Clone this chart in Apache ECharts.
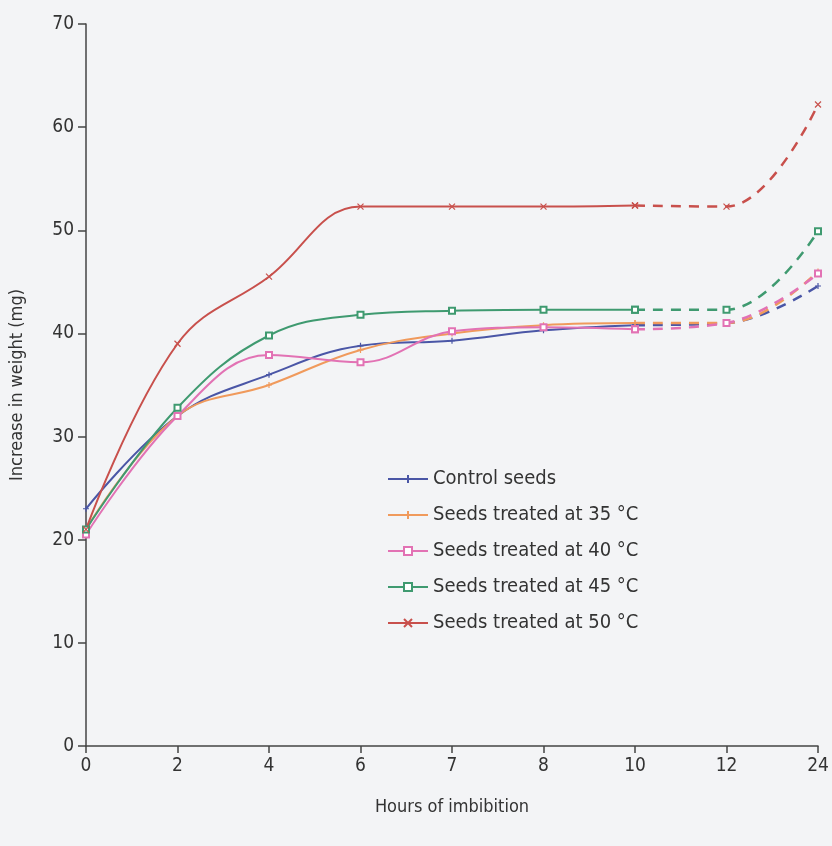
<!DOCTYPE html>
<html>
<head>
<meta charset="utf-8">
<script src="https://cdn.jsdelivr.net/npm/echarts@6/dist/echarts.min.js"></script>
<style>
  html, body { margin: 0; padding: 0; background: #f3f4f6; }
  #chart { width: 832px; height: 846px; }
</style>
</head>
<body>
<div id="chart"></div>
<script>
// hours of imbibition (category axis, equal spacing)
var hours = ['0', '2', '4', '6', '7', '8', '10', '12', '24'];

// increase in weight (mg)
var control = [23.0, 32.0, 36.0, 38.8, 39.3, 40.3, 40.8, 41.0, 44.6];
var t35 = [21.0, 32.0, 35.0, 38.4, 40.0, 40.8, 41.0, 41.0, 46.0];
var t40 = [20.5, 32.0, 37.9, 37.2, 40.2, 40.6, 40.4, 41.0, 45.8];
var t45 = [21.0, 32.8, 39.8, 41.8, 42.2, 42.3, 42.3, 42.3, 49.9];
var t50 = [21.0, 39.0, 45.5, 52.3, 52.3, 52.3, 52.4, 52.3, 62.2];

var names = ['Control seeds', 'Seeds treated at 35 °C', 'Seeds treated at 40 °C',
  'Seeds treated at 45 °C', 'Seeds treated at 50 °C'];
var values = [control, t35, t40, t45, t50];
var colors = ['#4a56a6', '#f09a5c', '#e272b4', '#3f9a70', '#c8504c'];
var plus = 'path://M5,0L5,10M0,5L10,5';
var cross = 'path://M0,0L10,10M10,0L0,10';
var symbols = [plus, plus, 'emptyRect', 'emptyRect', cross];

var lastSolid = 6; // index of hour 10

var series = [];
for (var i = 0; i < values.length; i++) {
  var solid = [], dashed = [];
  for (var j = 0; j < hours.length; j++) {
    solid.push(j <= lastSolid ? values[i][j] : null);
    dashed.push(j >= lastSolid ? values[i][j] : null);
  }
  series.push({
    name: names[i],
    type: 'line',
    data: solid,
    smooth: 0.4,
    symbol: symbols[i],
    symbolSize: 6,
    itemStyle: { color: colors[i], borderColor: colors[i], borderWidth: 1.2 },
    lineStyle: { width: 2, color: colors[i] }
  });
  series.push({
    name: names[i] + ' ',
    type: 'line',
    data: dashed,
    smooth: 0.4,
    symbol: symbols[i],
    symbolSize: 6,
    itemStyle: { color: colors[i], borderColor: colors[i], borderWidth: 1.2 },
    lineStyle: { width: 2.5, color: colors[i], type: [10, 8] }
  });
}

var font = "'DejaVu Sans Condensed', 'Liberation Sans Narrow', sans-serif";

var chart = echarts.init(document.getElementById('chart'));
chart.setOption({
  backgroundColor: '#f3f4f6',
  animation: false,
  grid: { left: 84, right: 14, top: 24, bottom: 100, containLabel: false },
  legend: {
    data: names,
    orient: 'vertical',
    left: 382,
    top: 464,
    itemGap: 16,
    itemWidth: 40,
    itemHeight: 10,
    textStyle: { fontFamily: font, fontSize: 20, color: '#333' }
  },
  xAxis: {
    type: 'category',
    data: hours,
    boundaryGap: false,
    name: 'Hours of imbibition',
    nameLocation: 'middle',
    nameGap: 52,
    nameTextStyle: { fontFamily: font, fontSize: 18, color: '#333' },
    axisLine: { lineStyle: { color: '#444', width: 1.5 } },
    axisTick: { alignWithLabel: true, length: 7, lineStyle: { color: '#444', width: 1.5 } },
    axisLabel: { fontFamily: font, fontSize: 19, color: '#333', margin: 11 },
    splitLine: { show: false }
  },
  yAxis: {
    type: 'value',
    min: 0,
    max: 70,
    interval: 10,
    name: 'Increase in weight (mg)',
    nameLocation: 'middle',
    nameGap: 60,
    nameTextStyle: { fontFamily: font, fontSize: 18, color: '#333' },
    axisLine: { show: true, lineStyle: { color: '#444', width: 1.5 } },
    axisTick: { show: true, length: 8, lineStyle: { color: '#444', width: 1.5 } },
    axisLabel: { fontFamily: font, fontSize: 19, color: '#333', margin: 12 },
    splitLine: { show: false }
  },
  series: series
});
</script>
</body>
</html>
